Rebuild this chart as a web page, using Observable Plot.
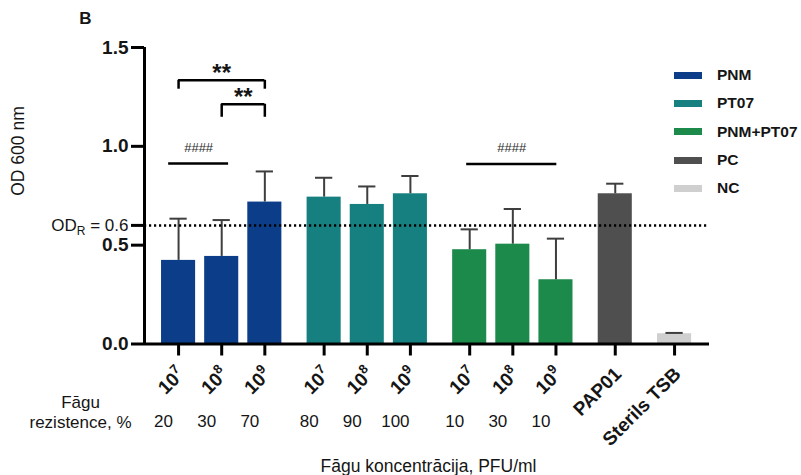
<!DOCTYPE html>
<html>
<head>
<meta charset="utf-8">
<script src="https://cdn.jsdelivr.net/npm/d3@7"></script>
<script src="https://cdn.jsdelivr.net/npm/@observablehq/plot@0.6"></script>
<style>
  body { margin: 0; background: #fff; font-family: "Liberation Sans", Arial, sans-serif; }
  #chart { position: relative; width: 801px; height: 475px; }
  #chart svg { position: absolute; left: 0; top: 0; }
  #legend { position: absolute; left: 674px; top: 61px; }
  #legend .row { display: flex; align-items: center; height: 28.3px; }
  #legend .sw { width: 28px; height: 7px; margin-right: 15px; }
  #legend .lab { font-weight: bold; font-size: 15.5px; color: #151515; }
</style>
</head>
<body>
<div id="chart"></div>
<script>
// Biofilm OD600 per treatment and phage concentration
const treatments = ["PNM", "PNM", "PNM", "PT07", "PT07", "PT07", "PNM+PT07", "PNM+PT07", "PNM+PT07", "PC", "NC"];
const tickLabels = ["10⁷", "10⁸", "10⁹", "10⁷", "10⁸", "10⁹", "10⁷", "10⁸", "10⁹", "PAP01", "Sterils TSB"];
const meanOD = [0.423, 0.443, 0.718, 0.743, 0.706, 0.760, 0.477, 0.505, 0.325, 0.760, 0.052];
const sdOD = [0.211, 0.184, 0.155, 0.098, 0.091, 0.090, 0.103, 0.178, 0.208, 0.051, 0.004];
const resistancePct = ["20", "30", "70", "80", "90", "100", "10", "30", "10", "", ""];

const legendNames = ["PNM", "PT07", "PNM+PT07", "PC", "NC"];
const legendColors = ["#0b3d88", "#15807f", "#1b8a4a", "#4f4f4f", "#cfcfcf"];

const yTicks = [0, 0.5, 1.0, 1.5];
const odR = 0.6;

// significance brackets (bar indices) and "####" comparison lines (fractional bar indices)
const starPairs = [
  { from: 0, to: 2, level: 1.334, foot: 1.289, label: "**" },
  { from: 1, to: 2, level: 1.213, foot: 1.147, label: "**" }
];
const hashLines = [
  { from: -0.23, to: 1.16, level: 0.913, label: "####" },
  { from: 5.93, to: 8.02, level: 0.910, label: "####" }
];

// layout: bars one unit apart, extra gap between treatment groups
const GAP = 0.375;
const BAR_HALF = 0.395;
const CAP_HALF = 0.2;
const groupOf = (i) => legendNames.indexOf(treatments[Math.max(0, Math.min(treatments.length - 1, Math.round(i)))]);
const posOf = (i) => i + groupOf(i) * GAP;

const rows = treatments.map((t, i) => ({
  treatment: t,
  tick: tickLabels[i],
  mean: meanOD[i],
  sd: sdOD[i],
  pct: resistancePct[i],
  pos: posOf(i)
}));

const xDomain = [-0.79, posOf(rows.length - 1) + 0.81];

const feet = starPairs.flatMap(b => [
  { x: posOf(b.from), y1: b.foot, y2: b.level },
  { x: posOf(b.to), y1: b.foot, y2: b.level }
]);

const ink = "#151515";
const odLabel = `ODR = ${odR}`;

const chart = Plot.plot({
  width: 801,
  height: 475,
  marginLeft: 144,
  marginRight: 92,
  marginTop: 47,
  marginBottom: 131.5,
  x: { domain: xDomain, axis: null },
  y: { domain: [0, 1.5], axis: null },
  color: { domain: legendNames, range: legendColors },
  style: { fontFamily: "'Liberation Sans', Arial, sans-serif", fontSize: "17px", color: "#000", background: "#fff", overflow: "visible" },
  marks: [
    // bars
    Plot.rectY(rows, { x1: d => d.pos - BAR_HALF, x2: d => d.pos + BAR_HALF, y1: 0, y2: "mean", fill: "treatment" }),
    // upper error bars
    Plot.ruleX(rows, { x: "pos", y1: "mean", y2: d => d.mean + d.sd, stroke: "#3e3e3e", strokeWidth: 2 }),
    Plot.ruleY(rows, { y: d => d.mean + d.sd, x1: d => d.pos - CAP_HALF, x2: d => d.pos + CAP_HALF, stroke: "#3e3e3e", strokeWidth: 2 }),
    // resistance threshold
    Plot.ruleY([odR], { stroke: "#000", strokeWidth: 2.5, strokeDasharray: "2.2,2.8" }),
    // axes
    Plot.ruleX([xDomain[0]], { y1: 0, y2: 1.5, stroke: "#000", strokeWidth: 3 }),
    Plot.ruleY([0], { stroke: "#000", strokeWidth: 3 }),
    Plot.axisY({ ticks: yTicks, tickSize: 13, tickPadding: 3, strokeWidth: 3, tickFormat: d3.format(".1f"), fontWeight: "bold", fontSize: 19, fill: ink, label: null }),
    Plot.axisY({ ticks: [odR], tickSize: 13, tickPadding: 3, strokeWidth: 3, tickFormat: () => odLabel, fontSize: 17, fill: ink, label: null }),
    Plot.axisX({ ticks: rows.map(d => d.pos), tickSize: 12, strokeWidth: 3, tickFormat: () => "", label: null }),
    // rotated category labels
    Plot.text(rows, { x: "pos", y: 0, text: "tick", rotate: -45, textAnchor: "end", dx: 3, dy: 27, fontWeight: "bold", fontSize: 19, fill: ink }),
    // resistance row
    Plot.text(rows, { x: "pos", y: 0, text: "pct", dx: -15, dy: 78, fontSize: 17, fill: ink }),
    Plot.text(["Fāgu\nrezistence, %"], { frameAnchor: "bottom-left", textAnchor: "middle", lineAnchor: "middle", lineHeight: 1.15, dx: -64, dy: 68, fontSize: 17, fill: ink }),
    // titles
    Plot.text(["Fāgu koncentrācija, PFU/ml"], { frameAnchor: "bottom", lineAnchor: "middle", dx: 1.5, dy: 122, fontSize: 17.5, fill: ink }),
    Plot.text(["OD 600 nm"], { frameAnchor: "left", rotate: -90, dx: -126, fontSize: 17.5, fill: ink }),
    Plot.text(["B"], { frameAnchor: "top-left", textAnchor: "middle", lineAnchor: "middle", dx: -59, dy: -29, fontWeight: "bold", fontSize: 17, fill: ink }),
    // significance brackets
    Plot.ruleY(starPairs, { y: "level", x1: d => posOf(d.from), x2: d => posOf(d.to), stroke: "#000", strokeWidth: 2.5 }),
    Plot.ruleX(feet, { x: "x", y1: "y1", y2: "y2", stroke: "#000", strokeWidth: 2.5 }),
    Plot.text(starPairs, { x: d => (posOf(d.from) + posOf(d.to)) / 2, y: "level", text: "label", lineAnchor: "bottom", dy: 1, fontWeight: "bold", fontSize: 24, fill: ink }),
    Plot.ruleY(hashLines, { y: "level", x1: d => posOf(d.from), x2: d => posOf(d.to), stroke: "#000", strokeWidth: 2.5 }),
    Plot.text(hashLines, { x: d => (posOf(d.from) + posOf(d.to)) / 2, y: "level", text: "label", dy: -16, fontSize: 13, fill: "#2a2a2a" })
  ]
});

const ns = "http://www.w3.org/2000/svg";
const superDigits = "⁰¹²³⁴⁵⁶⁷⁸⁹";
chart.querySelectorAll("text").forEach(t => {
  const s = t.textContent;
  // subscript R in the OD_R threshold label
  if (s === odLabel) {
    t.textContent = "";
    const a = document.createElementNS(ns, "tspan"); a.textContent = "OD";
    const b = document.createElementNS(ns, "tspan"); b.textContent = "R"; b.setAttribute("font-size", "12"); b.setAttribute("dy", "4");
    const c = document.createElementNS(ns, "tspan"); c.textContent = ` = ${odR}`; c.setAttribute("dy", "-4");
    t.append(a, b, c);
  }
  // raised, larger exponent for powers of ten
  const m = /^(\d+)([⁰¹²³⁴⁵⁶⁷⁸⁹])$/.exec(s);
  if (m) {
    t.textContent = "";
    const base = document.createElementNS(ns, "tspan"); base.textContent = m[1];
    const exp = document.createElementNS(ns, "tspan");
    exp.textContent = String(superDigits.indexOf(m[2]));
    exp.setAttribute("font-size", "13");
    exp.setAttribute("dy", "-8");
    t.append(base, exp);
  }
});

const root = document.getElementById("chart");
root.appendChild(chart);

// legend
const legend = document.createElement("div");
legend.id = "legend";
legendNames.forEach((name, i) => {
  const row = document.createElement("div");
  row.className = "row";
  const sw = document.createElement("div");
  sw.className = "sw";
  sw.style.background = legendColors[i];
  const lab = document.createElement("div");
  lab.className = "lab";
  lab.textContent = name;
  row.append(sw, lab);
  legend.appendChild(row);
});
root.appendChild(legend);
</script>
</body>
</html>
